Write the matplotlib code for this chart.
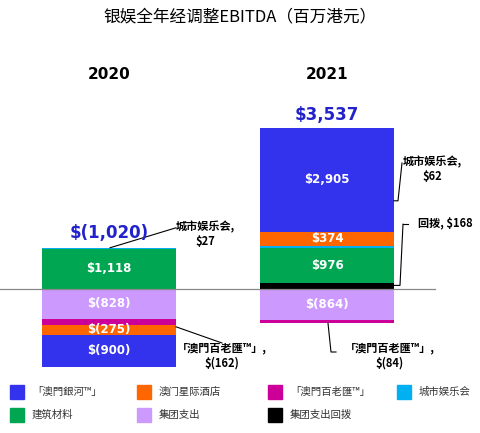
import matplotlib
matplotlib.use('Agg')
import matplotlib.pyplot as plt
from matplotlib.patches import Rectangle

plt.rcParams['font.family'] = ['Noto Sans CJK SC', 'DejaVu Sans']

years = ['2020', '2021']
totals = ['$(1,020)', '$3,537']
segments = ['「澳門銀河™」', '澳门星际酒店', '「澳門百老匯™」', '城市娱乐会', '建筑材料', '集团支出', '集团支出回拨']
colors = ['#3333ee', '#ff6600', '#cc0099', '#00b0f0', '#00a651', '#cc99ff', '#000000']
# stacking order from zero outward: (segment index, value)
pos_2020 = [(4, 1118), (3, 27)]
neg_2020 = [(5, -828), (2, -162), (1, -275), (0, -900)]
pos_2021 = [(6, 168), (4, 976), (3, 62), (1, 374), (0, 2905)]
neg_2021 = [(5, -864), (2, -84)]
inside = {1118: '$1,118', -828: '$(828)', -275: '$(275)', -900: '$(900)',
          976: '$976', 374: '$374', 2905: '$2,905', -864: '$(864)'}

fig = plt.figure(figsize=(4.8, 4.33), dpi=100)
ax = fig.add_axes([0, 0, 1, 1])
ax.set_xlim(0, 480)
ax.set_ylim(-4000, 8028)
ax.axis('off')

centers = [109, 327]
width = 134
stacks = [(pos_2020, neg_2020), (pos_2021, neg_2021)]
for c, (pos, neg) in zip(centers, stacks):
    for group in (pos, neg):
        base = 0
        for idx, v in group:
            ax.bar(c, v, width, bottom=base, color=colors[idx], linewidth=0)
            if v in inside:
                ax.text(c, base + v / 2, inside[v], ha='center', va='center',
                        color='white', fontsize=8.5, fontweight='bold', family='DejaVu Sans')
            base += v

ax.plot([0, 435], [0, 0], color='#888888', lw=0.9)

fig.text(0.5, 0.962, '银娱全年经调整EBITDA（百万港元）', ha='center', va='center', fontsize=12)
for c, y, t in zip(centers, years, totals):
    ax.text(c, 5950, y, ha='center', va='center', fontsize=11, fontweight='bold', family='DejaVu Sans')
ax.text(centers[0], 1550, totals[0], ha='center', va='center', fontsize=12, fontweight='bold',
        color='#2222cc', family='DejaVu Sans')
ax.text(centers[1], 4830, totals[1], ha='center', va='center', fontsize=12, fontweight='bold',
        color='#2222cc', family='DejaVu Sans')

# callouts
kw = dict(fontsize=8, ha='center', va='center', fontweight='bold')
ax.plot([110, 176], [1145, 1700], color='black', lw=0.8)
ax.text(205, 1520, '城市娱乐会,\n$27', **kw)
ax.plot([394, 398, 402], [2450, 2450, 3500], color='black', lw=0.8)
ax.text(432, 3320, '城市娱乐会,\n$62', **kw)
ax.plot([394, 400, 403], [100, 100, 1800], color='black', lw=0.8)
ax.plot([403, 408], [1800, 1800], color='black', lw=0.8)
ax.text(445, 1800, '回拨, $168', **kw)
ax.plot([176, 222], [-1050, -1500], color='black', lw=0.8)
ax.text(222, -1850, '「澳門百老匯™」,\n$(162)', **kw)
ax.plot([328, 331, 336], [-950, -1750, -1750], color='black', lw=0.8)
ax.text(390, -1850, '「澳門百老匯™」,\n$(84)', **kw)

# legend
lx = [10, 137, 268, 397]
for i, (name, col) in enumerate(zip(segments, colors)):
    row, colp = divmod(i, 4)
    x = lx[colp]
    y = 433 - (392 + row * 23)
    fig.patches.append(Rectangle((x / 480, (y - 7) / 433), 14 / 480, 14 / 433,
                                 color=col, transform=fig.transFigure))
    fig.text((x + 22) / 480, y / 433, name, va='center', fontsize=7.5, color='#333333')

fig.savefig('out.png', dpi=100)
